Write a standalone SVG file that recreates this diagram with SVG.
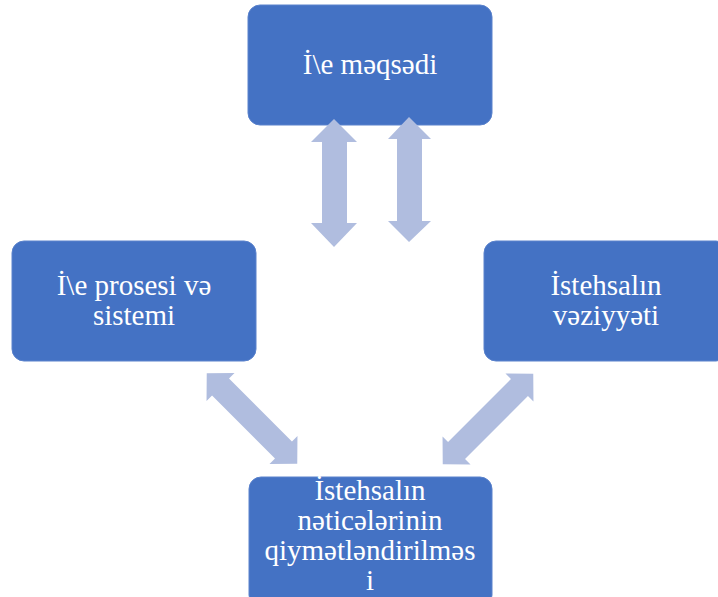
<svg xmlns="http://www.w3.org/2000/svg" width="718" height="597" viewBox="0 0 718 597">
  <style>
    .box { fill: #4472C4; stroke: #5A82CC; stroke-width: 1; }
    .arrow { fill: #B0BDDF; }
    .label { fill: #FFFFFF; font-family: "Liberation Serif", "Times New Roman", serif; font-size: 29px; text-anchor: middle; }
  </style>
  <defs>
    <!-- double-headed block arrow, centred on the origin, pointing along x -->
    <polygon id="diagArrow" points="-64,0 -44.5,-19.8 -44.5,-12 44.5,-12 44.5,-19.8 64,0 44.5,19.8 44.5,12 -44.5,12 -44.5,19.8"/>
  </defs>
  <rect width="718" height="597" fill="#FFFFFF"/>

  <g id="node-goal">
    <rect class="box" x="248" y="5" width="244" height="120" rx="12"/>
    <text class="label" x="370" y="74">İ\e məqsədi</text>
  </g>

  <g id="node-process">
    <rect class="box" x="12" y="241" width="244" height="120" rx="12"/>
    <text class="label" x="134" y="295">İ\e prosesi və</text>
    <text class="label" x="134" y="325">sistemi</text>
  </g>

  <g id="node-state">
    <rect class="box" x="484" y="241" width="244" height="120" rx="12"/>
    <text class="label" x="606" y="295">İstehsalın</text>
    <text class="label" x="606" y="325">vəziyyəti</text>
  </g>

  <g id="node-results">
    <rect class="box" x="249" y="477" width="243" height="130" rx="12"/>
    <text class="label" x="370" y="500">İstehsalın</text>
    <text class="label" x="370" y="530">nəticələrinin</text>
    <text class="label" x="370" y="560">qiymətləndirilməs</text>
    <text class="label" x="370" y="590">i</text>
  </g>

  <!-- block arrows sit above the boxes so their tips overlap the goal box -->
  <g id="connectors">
    <polygon class="arrow" points="334,119 357,142 347,142 347,223 357,223 334,247 311,223 322,223 322,142 311,142"/>
    <polygon class="arrow" points="409,117 431,139 422,139 422,221 431,221 409,242 388,221 397,221 397,139 388,139"/>
    <use href="#diagArrow" class="arrow" transform="translate(252,418.5) rotate(45)"/>
    <use href="#diagArrow" class="arrow" transform="translate(488,419) rotate(-45)"/>
  </g>
</svg>
